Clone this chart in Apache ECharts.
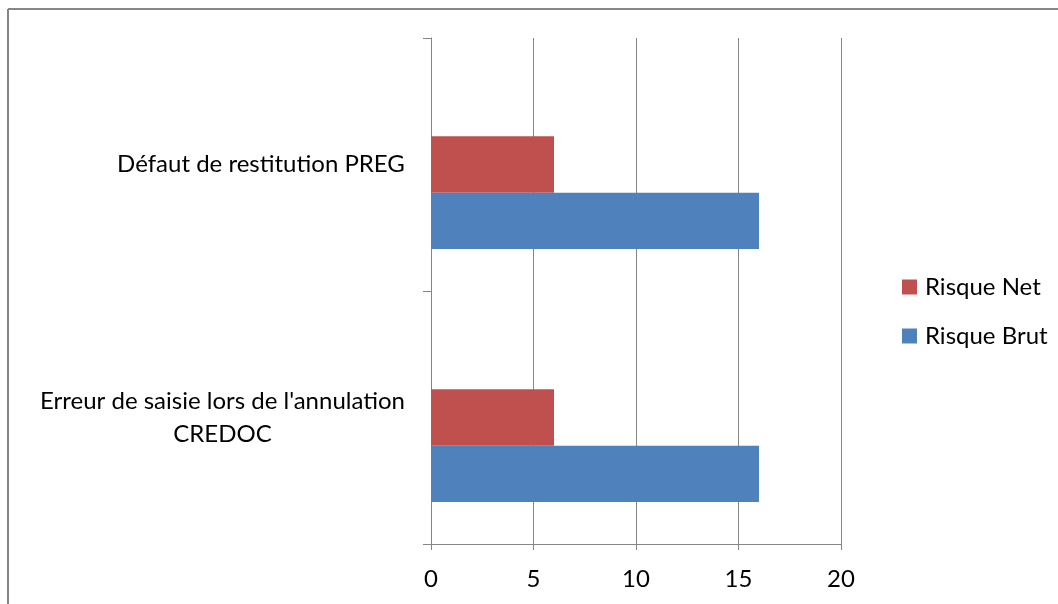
<!DOCTYPE html>
<html>
<head>
<meta charset="utf-8">
<script src="https://cdn.jsdelivr.net/npm/echarts@6/dist/echarts.min.js"></script>
<style>
  html, body { margin: 0; padding: 0; background: #fff; }
  #chart { width: 1058px; height: 604px; }
</style>
</head>
<body>
<div id="chart"></div>
<script>
// Risk categories (bottom to top) and their scores
const categories = ['Erreur de saisie lors de l\'annulation\nCREDOC', 'Défaut de restitution PREG'];
const risqueBrut = [16, 16];
const risqueNet = [6, 6];
const xTicks = { min: 0, max: 20, interval: 5 };

const FONT = 'Lato, "Open Sans", sans-serif';
const FONT_SIZE = 24;
const GRAY = '#868686';

// measure the widest line so multi-line labels can be centred inside a fixed box
const ctx = document.createElement('canvas').getContext('2d');
ctx.font = FONT_SIZE + 'px ' + FONT;
function widest(lines) {
  return Math.ceil(Math.max.apply(null, lines.map(l => ctx.measureText(l).width)));
}

const rich = {};
categories.forEach((c, i) => {
  const lines = c.split('\n');
  rich['l' + i] = { width: widest(lines), align: 'center', fontSize: FONT_SIZE, fontFamily: FONT, color: '#000', lineHeight: 33 };
});

const barLayout = { barGap: '0%', barCategoryGap: '33.3%' };

const chart = echarts.init(document.getElementById('chart'));
chart.setOption({
  animation: false,
  backgroundColor: '#fff',
  graphic: [
    { type: 'line', shape: { x1: 8, y1: 9, x2: 1058, y2: 9 }, style: { stroke: GRAY, lineWidth: 2 } },
    { type: 'line', shape: { x1: 8, y1: 9, x2: 8, y2: 604 }, style: { stroke: GRAY, lineWidth: 2 } }
  ],
  grid: { left: 431, right: 217, top: 38, bottom: 60, containLabel: false },
  legend: {
    orient: 'vertical',
    left: 897,
    top: 270,
    itemWidth: 15,
    itemHeight: 15,
    itemGap: 25,
    icon: 'rect',
    data: ['Risque Net', 'Risque Brut'],
    textStyle: { fontFamily: FONT, fontSize: FONT_SIZE, color: '#000', padding: [0, 0, 0, 3] }
  },
  xAxis: {
    type: 'value',
    min: xTicks.min,
    max: xTicks.max,
    interval: xTicks.interval,
    axisLine: { show: true, lineStyle: { color: GRAY, width: 1 } },
    axisTick: { show: true, length: 6, lineStyle: { color: GRAY } },
    splitLine: { show: true, lineStyle: { color: GRAY, width: 1 } },
    axisLabel: { fontFamily: FONT, fontSize: FONT_SIZE, color: '#000', margin: 23 }
  },
  yAxis: {
    type: 'category',
    data: categories,
    axisLine: { show: true, lineStyle: { color: GRAY, width: 1 } },
    axisTick: { show: true, length: 8, lineStyle: { color: GRAY } },
    axisLabel: {
      margin: 26,
      fontFamily: FONT,
      fontSize: FONT_SIZE,
      color: '#000',
      formatter: function (value, idx) {
        return value.split('\n').map(l => '{l' + idx + '|' + l + '}').join('\n');
      },
      rich: rich
    }
  },
  series: [
    // empty slot keeps the pair of bars in the lower part of each band
    Object.assign({ name: 'slot', type: 'bar', data: ['-', '-'] }, barLayout),
    Object.assign({ name: 'Risque Net', type: 'bar', data: risqueNet, itemStyle: { color: '#C0504D' } }, barLayout),
    Object.assign({ name: 'Risque Brut', type: 'bar', data: risqueBrut, itemStyle: { color: '#4F81BD' } }, barLayout)
  ]
});
</script>
</body>
</html>
